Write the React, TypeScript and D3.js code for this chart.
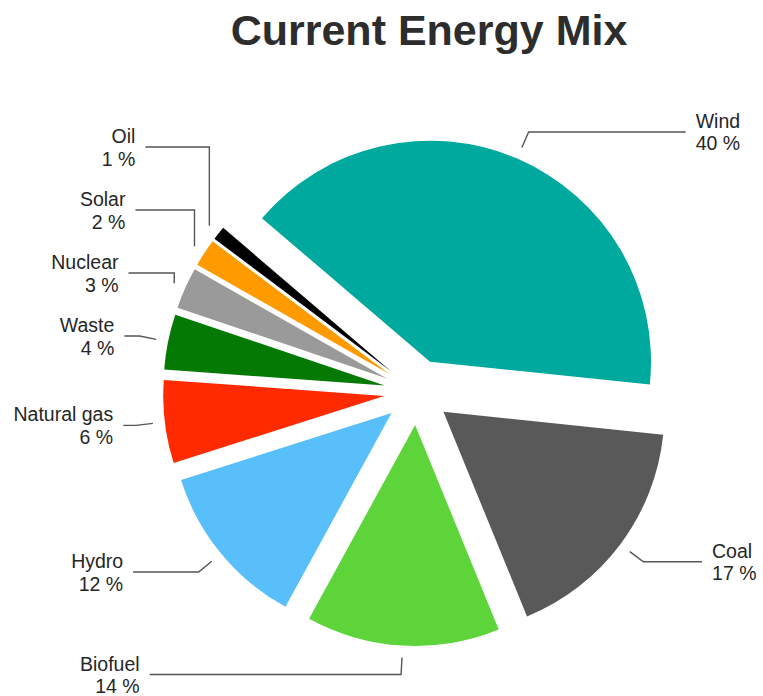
import React from "react";
import * as d3 from "d3";

const categories = ["Wind", "Coal", "Biofuel", "Hydro", "Natural gas", "Waste", "Nuclear", "Solar", "Oil"];
const values = [40, 17, 14, 12, 6, 4, 3, 2, 1];
const colors = ["#00A99D", "#595959", "#5CD43A", "#59BFFA", "#FF2A00", "#047A04", "#9A9A9A", "#FF9A00", "#000000"];
const title = "Current Energy Mix";

const W = 763;
const H = 696;
const CX = 417;
const CY = 392;
const R = 221;
const EXPLODE = 33;
const START_DEG = -49.5;
const FONT = "'Liberation Sans', Arial, Helvetica, sans-serif";

type Datum = { name: string; value: number; color: string };

export default function App() {
  const data: Datum[] = categories.map((c, i) => ({ name: c, value: values[i], color: colors[i] }));
  const start = (START_DEG * Math.PI) / 180;
  const pie = d3
    .pie<Datum>()
    .sort(null)
    .value((d) => d.value)
    .startAngle(start)
    .endAngle(start + Math.PI * 2);
  const arcs = pie(data);
  const arcGen = d3.arc<d3.PieArcDatum<Datum>>().innerRadius(0).outerRadius(R);

  const items = arcs.map((a) => {
    const mid = (a.startAngle + a.endAngle) / 2;
    const ux = Math.sin(mid);
    const uy = -Math.cos(mid);
    const ax = CX + EXPLODE * ux;
    const ay = CY + EXPLODE * uy;
    const sx = ax + (R + 12) * ux;
    const sy = ay + (R + 12) * uy;
    const ex = ax + (R + 29) * ux;
    const ey = ay + (R + 29) * uy;
    const side = ux >= 0 ? 1 : -1;
    return { a, ax, ay, sx, sy, ex, ey, side, ly: ey };
  });

  // resolve overlaps on each side (push upward)
  const GAP = 63;
  [1, -1].forEach((side) => {
    const s = items.filter((it) => it.side === side).sort((p, q) => p.ly - q.ly);
    for (let i = s.length - 2; i >= 0; i--) {
      if (s[i].ly > s[i + 1].ly - GAP) s[i].ly = s[i + 1].ly - GAP;
    }
  });

  const labels = items.map((it) => {
    const dyN = (it.ly - 400) / 660;
    const endX = CX + it.side * 294 * Math.sqrt(Math.max(0, 1 - dyN * dyN));
    let elbowX = it.ex;
    if (Math.abs(it.ly - it.ey) > 1) {
      elbowX = it.sx - it.side * Math.abs(it.ly - it.sy);
      if ((elbowX - endX) * it.side < 20) elbowX = it.sx;
    }
    const path = d3.line()([
      [it.sx, it.sy],
      [elbowX, it.ly],
      [endX, it.ly],
    ]);
    const tx = endX + it.side * 10;
    return { it, path, tx };
  });

  return (
    <div style={{ position: "fixed", left: 0, top: 0 }}>
      <svg width={W} height={H} style={{ display: "block", background: "#ffffff" }}>
        <text
          x={429}
          y={45}
          textAnchor="middle"
          fontFamily={FONT}
          fontWeight="bold"
          fontSize={43}
          fill="#2d2d2d"
        >
          {title}
        </text>
        {items.map((it, i) => (
          <path
            key={"s" + i}
            d={arcGen(it.a) || ""}
            transform={`translate(${it.ax},${it.ay})`}
            fill={it.a.data.color}
          />
        ))}
        {labels.map((l, i) => (
          <g key={"l" + i}>
            <path d={l.path || ""} fill="none" stroke="#555555" strokeWidth={1.4} />
            <text
              x={l.tx}
              y={l.it.ly - 4}
              textAnchor={l.it.side > 0 ? "start" : "end"}
              fontFamily={FONT}
              fontSize={19.5}
              fill="#262626"
            >
              {l.it.a.data.name}
            </text>
            <text
              x={l.tx}
              y={l.it.ly + 18.5}
              textAnchor={l.it.side > 0 ? "start" : "end"}
              fontFamily={FONT}
              fontSize={19.5}
              fill="#262626"
            >
              {`${l.it.a.data.value} %`}
            </text>
          </g>
        ))}
      </svg>
    </div>
  );
}
